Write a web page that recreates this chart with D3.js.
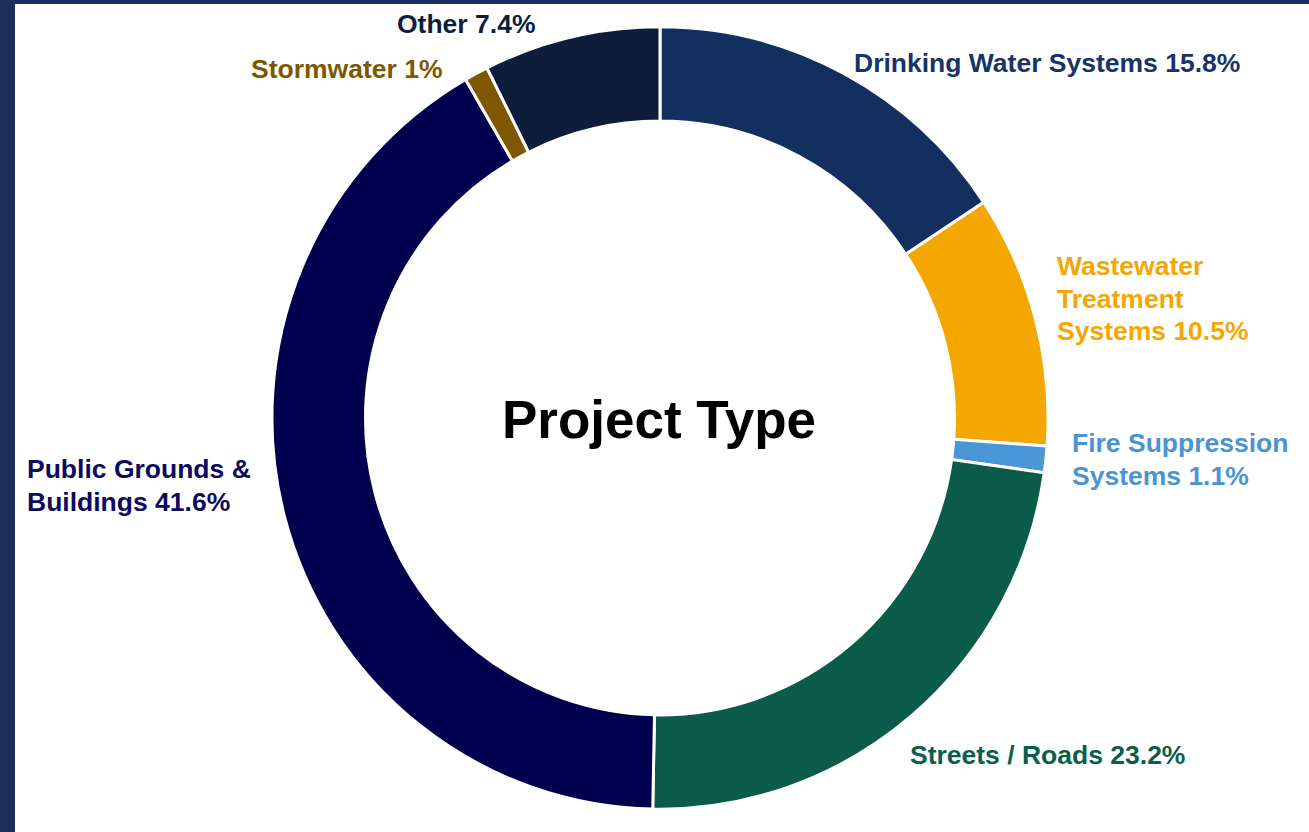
<!DOCTYPE html>
<html>
<head>
<meta charset="utf-8">
<script src="https://cdn.jsdelivr.net/npm/d3@7"></script>
<style>
  html, body { margin: 0; padding: 0; background: #1c2e5e; }
  svg { display: block; }
  text { font-family: "Liberation Sans", Arial, sans-serif; font-weight: bold; }
</style>
</head>
<body>
<svg id="chart" width="1309" height="832"></svg>
<script>
// Project types (clockwise from 12 o'clock) and their shares in percent
const categories = [
  "Drinking Water Systems",
  "Wastewater\nTreatment\nSystems",
  "Fire Suppression\nSystems",
  "Streets / Roads",
  "Public Grounds &\nBuildings",
  "Stormwater",
  "Other"
];
const shares = [15.8, 10.5, 1.1, 23.2, 41.6, 1, 7.4];
const sliceColors = ["#132f5f", "#f4a700", "#4a96d6", "#0a5b4a", "#00004f", "#7e5800", "#0e1e3a"];
const labelColors = ["#163468", "#f4a700", "#4a94d4", "#0b5e4c", "#0a0a5e", "#7e5800", "#0e1e3a"];
// Where each label's first line starts (left edge, baseline)
const labelAnchors = [[854, 72], [1057, 275], [1072, 452], [910, 764], [27, 478], [251, 78], [397, 33]];

const svg = d3.select("#chart");
const W = 1309, H = 832;

// white panel inside the dark frame
svg.append("rect").attr("x", 15).attr("y", 4).attr("width", W - 15).attr("height", H - 4).attr("fill", "#ffffff");

const cx = 660, cy = 418;
const outerR = 390, innerR = 296;

const pie = d3.pie().sort(null).value(d => d.value);
const arc = d3.arc().innerRadius(innerR).outerRadius(outerR);

const data = categories.map((c, i) => ({ name: c, value: shares[i], i }));

const g = svg.append("g").attr("transform", `translate(${cx},${cy}) scale(0.995,1.003)`);
g.selectAll("path")
  .data(pie(data))
  .join("path")
  .attr("d", arc)
  .attr("fill", d => sliceColors[d.data.i])
  .attr("stroke", "#ffffff")
  .attr("stroke-width", 3)
  .attr("stroke-linejoin", "miter");

// centre title
svg.append("text")
  .attr("x", cx - 1).attr("y", 438)
  .attr("text-anchor", "middle")
  .attr("font-size", 53)
  .attr("fill", "#000000")
  .text("Project Type");

// slice labels
const labels = svg.append("g");
data.forEach((d, i) => {
  const lines = d.name.split("\n");
  lines[lines.length - 1] += " " + d.value + "%";
  const t = labels.append("text")
    .attr("x", labelAnchors[i][0])
    .attr("y", labelAnchors[i][1])
    .attr("font-size", 26.5)
    .attr("fill", labelColors[i]);
  lines.forEach((ln, k) => {
    t.append("tspan")
      .attr("x", labelAnchors[i][0])
      .attr("dy", k === 0 ? 0 : 32.5)
      .text(ln);
  });
});
</script>
</body>
</html>
